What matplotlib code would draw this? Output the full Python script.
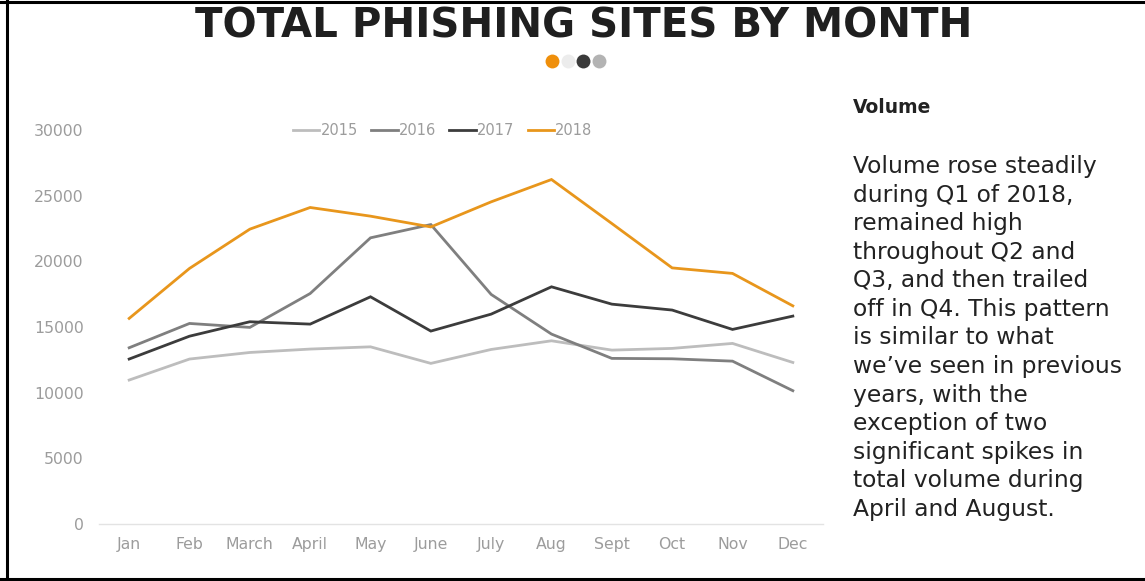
import matplotlib
matplotlib.use('Agg')
from matplotlib import pyplot as plt
from matplotlib.lines import Line2D

months = ['Jan', 'Feb', 'March', 'April', 'May', 'June',
          'July', 'Aug', 'Sept', 'Oct', 'Nov', 'Dec']

sites_2015 = [10960, 12560, 13060, 13320, 13490, 12230,
              13290, 13950, 13240, 13370, 13750, 12300]
sites_2016 = [13420, 15270, 14970, 17550, 21790, 22800,
              17480, 14460, 12610, 12580, 12400, 10150]
sites_2017 = [12560, 14300, 15400, 15220, 17300, 14690,
              15980, 18060, 16740, 16290, 14815, 15830]
sites_2018 = [15655, 19460, 22450, 24100, 23440, 22620,
              24530, 26230, 22880, 19500, 19080, 16610]

years = ['2015', '2016', '2017', '2018']
colors = ['#bdbdbd', '#7f7f7f', '#3c3c3c', '#e8961c']

plt.rcParams['font.family'] = ['DejaVu Sans']

fig = plt.figure(figsize=(11.45, 5.81), dpi=100)
ax = fig.add_axes([99 / 1145, 57 / 581, 724 / 1145, 394 / 581])

for year, vals, c in zip(years, [sites_2015, sites_2016, sites_2017, sites_2018], colors):
    ax.plot(range(len(months)), vals, color=c, lw=2.0, label=year, solid_joinstyle='miter')

ax.set_xlim(-0.5, 11.5)
ax.set_ylim(0, 30000)
ax.set_yticks(range(0, 30001, 5000))
ax.set_xticks(range(len(months)))
ax.set_xticklabels(months)
for s in ['top', 'right', 'left']:
    ax.spines[s].set_visible(False)
ax.spines['bottom'].set_color('#e3e3e3')
ax.spines['bottom'].set_linewidth(1.0)
ax.tick_params(axis='both', length=0, colors='#9c9c9c', labelsize=11.3)
ax.tick_params(axis='y', pad=11)
ax.tick_params(axis='x', pad=9.5)

leg = ax.legend(loc='upper center', bbox_to_anchor=(0.475, 1.05), ncol=4, frameon=False,
                handlelength=1.8, handletextpad=0.1, columnspacing=0.9,
                fontsize=10.5, labelcolor='#9c9c9c')

# title and the little colored dots under it
fig.text(584 / 1145, 1 - 37 / 581, 'TOTAL PHISHING SITES BY MONTH', ha='center', va='baseline',
         fontsize=29, fontweight='bold', color='#1f1f1f')
for cx, c in zip([552, 568, 583, 599], ['#ef8f0b', '#ececec', '#3a3a3a', '#b3b3b3']):
    fig.add_artist(Line2D([cx / 1145], [1 - 60.5 / 581], transform=fig.transFigure,
                          marker='o', markersize=10, markerfacecolor=c, markeredgewidth=0,
                          linestyle='none'))

fig.text(853 / 1145, 1 - 113 / 581, 'Volume', ha='left', va='baseline',
         fontsize=13.5, fontweight='bold', color='#222222')
body = ('Volume rose steadily\nduring Q1 of 2018,\nremained high\nthroughout Q2 and\n'
        'Q3, and then trailed\noff in Q4. This pattern\nis similar to what\n'
        'we\u2019ve seen in previous\nyears, with the\nexception of two\n'
        'significant spikes in\ntotal volume during\nApril and August.')
fig.text(853 / 1145, 1 - 155 / 581, body, ha='left', va='top',
         fontsize=16.8, color='#222222', linespacing=1.31)

# frame around the slide
fig.add_artist(Line2D([7 / 1145, 7 / 1145], [0, 1], transform=fig.transFigure, color='black', lw=2.2))
fig.add_artist(Line2D([0, 1], [1 - 1.5 / 581, 1 - 1.5 / 581], transform=fig.transFigure, color='black', lw=2.2))
fig.add_artist(Line2D([0, 1], [2.5 / 581, 2.5 / 581], transform=fig.transFigure, color='black', lw=2.2))

fig.savefig('out.png', dpi=100)
